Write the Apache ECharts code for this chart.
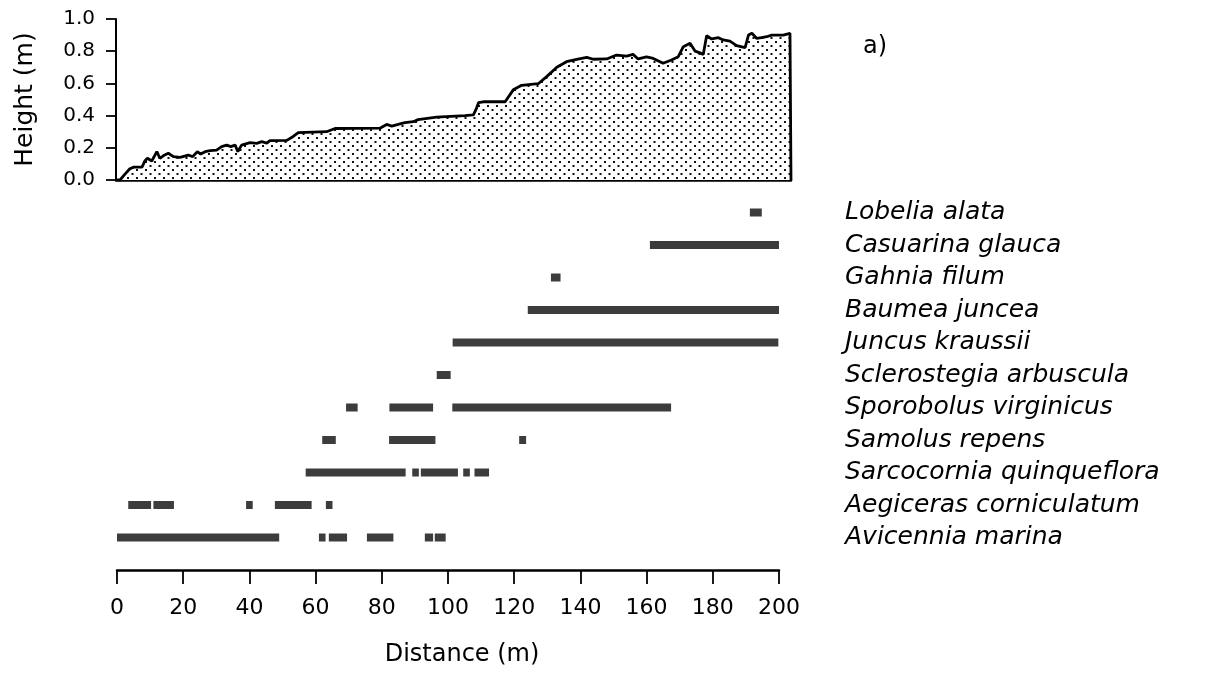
<!DOCTYPE html>
<html>
<head>
<meta charset="utf-8">
<style>html,body{margin:0;padding:0;background:#fff;}#c{width:1222px;height:675px;}</style>
<script src="https://cdn.jsdelivr.net/npm/echarts@6.0.0/dist/echarts.min.js"></script>
</head>
<body>
<div id="c"></div>
<script>
// ---- Data ----
const distanceTicks = [0, 20, 40, 60, 80, 100, 120, 140, 160, 180, 200];
const heightTicks = [0.0, 0.2, 0.4, 0.6, 0.8, 1.0];

const profileDistance = [0, 1.2, 2.4, 4.1, 5.3, 7.7, 8.6, 9.3, 10.6, 12.1, 13.0, 14.0, 15.5, 17.0, 19.0, 21.4, 22.7, 24.1, 25.1, 26.4, 27.9, 29.8, 31.3, 32.8, 34.0, 35.3, 36.1, 37.2, 39.7, 41.7, 43.2, 44.7, 45.6, 50.6, 52.4, 54.0, 62.4, 64.9, 78.2, 80.2, 81.7, 83.6, 85.6, 88.1, 89.5, 95.0, 103.4, 105.9, 106.7, 107.4, 108.8, 115.3, 117.7, 120.2, 125.1, 127.6, 130.6, 133.5, 136.5, 139.5, 141.4, 145.4, 148.3, 151.3, 153.2, 154.7, 157.2, 159.2, 162.1, 164.6, 166.6, 168.1, 170.1, 171.6, 173.0, 174.0, 175.0, 176.5, 178.5, 179.9, 181.9, 183.9, 186.4, 187.4, 188.4, 189.8, 191.3, 192.8, 194.3, 197.7, 199.7, 200, 200];
const profileHeight = [0, 0, 0.03, 0.07, 0.08, 0.08, 0.12, 0.135, 0.118, 0.176, 0.135, 0.15, 0.166, 0.145, 0.14, 0.155, 0.145, 0.176, 0.161, 0.176, 0.182, 0.186, 0.207, 0.217, 0.207, 0.217, 0.176, 0.217, 0.232, 0.228, 0.238, 0.229, 0.244, 0.246, 0.269, 0.294, 0.30, 0.32, 0.322, 0.345, 0.335, 0.345, 0.356, 0.362, 0.375, 0.39, 0.40, 0.404, 0.44, 0.48, 0.486, 0.486, 0.56, 0.588, 0.598, 0.642, 0.70, 0.735, 0.749, 0.762, 0.75, 0.752, 0.776, 0.77, 0.78, 0.752, 0.765, 0.755, 0.725, 0.745, 0.766, 0.828, 0.849, 0.80, 0.79, 0.78, 0.896, 0.876, 0.884, 0.87, 0.863, 0.835, 0.822, 0.90, 0.911, 0.88, 0.885, 0.89, 0.90, 0.90, 0.911, 0.91, 0];

// species, bottom to top
const species = ['Avicennia marina', 'Aegiceras corniculatum', 'Sarcocornia quinqueflora', 'Samolus repens', 'Sporobolus virginicus', 'Sclerostegia arbuscula', 'Juncus kraussii', 'Baumea juncea', 'Gahnia filum', 'Casuarina glauca', 'Lobelia alata'];

// occurrence ranges (m) per species
const avicenniaMarina = [[0, 49], [61, 63], [64, 69.5], [75.5, 83.5], [93, 95.5], [96, 99.3]];
const aegicerasCorniculatum = [[3.4, 10.3], [11, 17.2], [39, 41], [47.7, 58.8], [63.1, 65.1]];
const sarcocorniaQuinqueflora = [[57, 87.2], [89.2, 91.2], [91.8, 103], [104.6, 106.6], [108, 112.4]];
const samolusRepens = [[62, 66.1], [82.2, 96.2], [121.5, 123.6]];
const sporobolusVirginicus = [[69.2, 72.7], [82.3, 95.5], [101.3, 167.4]];
const sclerostegiaArbuscula = [[96.6, 100.8]];
const juncusKraussii = [[101.4, 199.8]];
const baumeaJuncea = [[124.1, 200]];
const gahniaFilum = [[131.1, 134]];
const casuarinaGlauca = [[161, 200]];
const lobeliaAlata = [[191.2, 194.8]];

const rangesBySpecies = [avicenniaMarina, aegicerasCorniculatum, sarcocorniaQuinqueflora, samolusRepens, sporobolusVirginicus, sclerostegiaArbuscula, juncusKraussii, baumeaJuncea, gahniaFilum, casuarinaGlauca, lobeliaAlata];

// ---- Build ----
const profileData = profileDistance.map((d, i) => [d, profileHeight[i]]);
const barData = [];
rangesBySpecies.forEach((ranges, row) => ranges.forEach(r => barData.push([r[0], r[1], row])));

// stipple pattern
const pat = document.createElement('canvas');
pat.width = 9; pat.height = 8;
const pc = pat.getContext('2d');
pc.fillStyle = '#fff'; pc.fillRect(0, 0, 9, 8);
pc.fillStyle = '#111';
pc.fillRect(1, 1, 2, 2);
pc.fillRect(5.5, 5, 2, 2);

const FONT = 'DejaVu Sans';
const chart = echarts.init(document.getElementById('c'), null, {renderer: 'canvas'});
chart.setOption({
  backgroundColor: '#ffffff',
  animation: false,
  title: {
    text: 'a)', left: 858, top: 30,
    textStyle: {fontFamily: FONT, fontSize: 24, fontWeight: 'normal', color: '#000'}
  },
  grid: [
    {left: 116, right: 431, top: 19, bottom: 495, outerBoundsMode: 'none'},
    {left: 117, right: 443, top: 180, bottom: 105, outerBoundsMode: 'none'}
  ],
  xAxis: [
    {
      gridIndex: 0, type: 'value', min: 0, max: 200,
      axisLine: {show: true, onZero: false, lineStyle: {color: '#000', width: 2.5}},
      axisTick: {show: false}, axisLabel: {show: false}, splitLine: {show: false}
    },
    {
      gridIndex: 1, type: 'value', min: 0, max: 200, interval: 20,
      axisLine: {show: true, onZero: false, lineStyle: {color: '#000', width: 2.5}},
      axisTick: {show: true, length: 14, lineStyle: {color: '#000', width: 1.8}},
      axisLabel: {
        margin: 27, color: '#000', fontFamily: FONT, fontSize: 22,
        formatter: v => distanceTicks.includes(v) ? String(v) : ''
      },
      splitLine: {show: false},
      name: 'Distance (m)', nameLocation: 'middle', nameGap: 73,
      nameTextStyle: {color: '#000', fontFamily: FONT, fontSize: 24, padding: [0, 0, 0, 28]}
    }
  ],
  yAxis: [
    {
      gridIndex: 0, type: 'value', min: 0, max: 1, interval: 0.2,
      axisLine: {show: true, lineStyle: {color: '#000', width: 2}},
      axisTick: {show: true, length: 10, lineStyle: {color: '#000', width: 1.8}},
      axisLabel: {
        margin: 21, color: '#000', fontFamily: FONT, fontSize: 20,
        formatter: v => {
          const t = heightTicks.find(h => Math.abs(h - v) < 1e-6);
          return t === undefined ? '' : t.toFixed(1);
        }
      },
      splitLine: {show: false},
      name: 'Height (m)', nameLocation: 'middle', nameGap: 78, nameRotate: 90,
      nameTextStyle: {color: '#000', fontFamily: FONT, fontSize: 25}
    },
    {
      gridIndex: 1, type: 'value', min: -1, max: 11, interval: 1, position: 'right',
      axisLine: {show: false}, axisTick: {show: false}, splitLine: {show: false},
      axisLabel: {
        margin: 66, color: '#000', fontFamily: FONT, fontSize: 25, fontStyle: 'italic', align: 'left',
        formatter: v => (v >= 0 && v < species.length) ? species[v] : ''
      }
    }
  ],
  series: [
    {
      type: 'line', xAxisIndex: 0, yAxisIndex: 0, data: profileData,
      showSymbol: false, symbol: 'none',
      lineStyle: {color: '#000', width: 2.8},
      areaStyle: {color: {image: pat, repeat: 'repeat'}, opacity: 1, origin: 'start'},
      z: 2
    },
    {
      type: 'custom', xAxisIndex: 1, yAxisIndex: 1, data: barData,
      renderItem: (params, api) => {
        const a = api.coord([api.value(0), api.value(2)]);
        const b = api.coord([api.value(1), api.value(2)]);
        const h = 8;
        return {
          type: 'rect',
          shape: {x: a[0], y: a[1] - h / 2, width: Math.max(b[0] - a[0], 1), height: h},
          style: {fill: '#3c3c3c'}
        };
      },
      encode: {x: [0, 1], y: 2}
    }
  ]
});
</script>
</body>
</html>
